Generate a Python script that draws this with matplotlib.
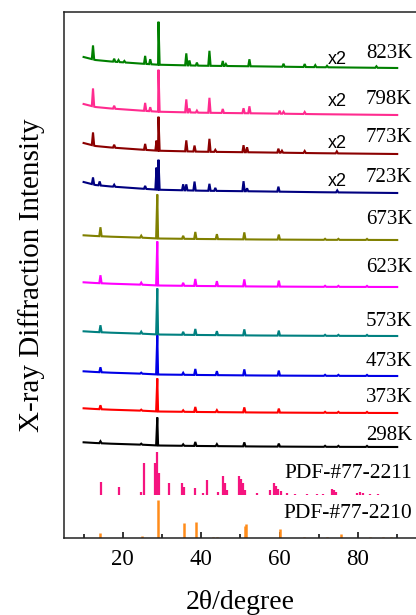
import numpy as np
import matplotlib
matplotlib.use("Agg")
import matplotlib.pyplot as plt

plt.rcParams['font.family'] = ['Liberation Serif', 'DejaVu Serif']

# ---------------- data ----------------
samples = ["823K", "798K", "773K", "723K", "673K", "623K", "573K", "473K", "373K", "298K"]
offsets = [470, 423, 384, 345, 298, 251, 202, 162, 125, 91]
doubled = [True, True, True, True, False, False, False, False, False, False]
colors = ["#008000", "#ff2b8f", "#8b0000", "#000080", "#808000",
          "#ff00ff", "#008080", "#0000e6", "#ff0000", "#000000"]

bg_x = [10, 13, 17, 25, 29, 40, 55, 70, 90]
bg_high = [11, 8, 6.5, 4.3, 3.3, 2.3, 1.6, 0.8, 0]
bg_low = [4.7, 4.0, 3.3, 2.3, 1.5, 1.0, 0.5, 0.2, 0]

pk_823 = [12.4, 17.8, 18.9, 20.4, 25.7, 27.0, 29.1, 36.2, 37.0, 38.9, 42.1, 45.5, 46.3, 52.3, 61.0, 66.4, 69.1, 72.1, 84.7]
ht_823 = [14, 3, 2, 1.5, 8, 5, 43, 12, 5, 3, 15, 5, 2, 7, 3, 3, 2, 1.5, 1.5]
pk_798 = [12.4, 17.8, 25.7, 27.0, 29.1, 36.2, 37.0, 38.9, 42.1, 45.5, 50.8, 52.3, 60.0, 61.0, 66.4]
ht_798 = [18, 3, 8, 4, 42, 13, 4, 2, 15, 4, 5, 7, 3, 2, 2]
pk_773 = [12.4, 17.8, 25.7, 28.6, 29.1, 36.2, 38.3, 42.1, 43.6, 50.8, 51.7, 59.7, 60.6, 66.4, 74.6]
ht_773 = [13, 3, 6, 10, 34, 11, 6, 13, 2, 7, 5, 4, 2, 2, 2]
pk_723 = [12.4, 14.1, 17.8, 25.7, 28.6, 29.1, 35.4, 36.2, 38.3, 42.1, 43.6, 50.8, 51.7, 59.7, 74.7]
ht_723 = [7, 4, 2, 3, 22, 30, 6, 6, 9, 7, 3, 10, 3, 5, 2]
pk_low = [14.3, 24.7, 28.8, 35.4, 38.5, 44.0, 51.0, 59.8, 71.6, 75.0, 82.3]
ht_673 = [9, 2, 44, 3, 7, 5, 7, 5, 1, 1, 1]
ht_623 = [8, 2, 44, 3, 7, 5, 7, 6, 1, 1, 1]
ht_573 = [7, 2, 46, 3, 6, 4, 6, 5, 1, 1, 1]
ht_473 = [5, 1, 39, 2, 6, 4, 6, 5, 1, 1, 1]
ht_373 = [4, 1, 33, 1.5, 5, 2, 5, 4, 1, 1, 1]
ht_298 = [2, 1, 28, 1.5, 4, 2, 4, 3, 1, 1, 1]

peaks = [pk_823, pk_798, pk_773, pk_723, pk_low, pk_low, pk_low, pk_low, pk_low, pk_low]
heights = [ht_823, ht_798, ht_773, ht_723, ht_673, ht_623, ht_573, ht_473, ht_373, ht_298]

# reference patterns (stick lines)
pdf_names = ["PDF-#77-2211", "PDF-#77-2210"]
pdf_offsets = [43, 0]
pdf_colors = ["#f5147f", "#ff8c1a"]
pdf2211_pos = [14.4, 19.0, 24.6, 25.3, 28.2, 28.6, 29.2, 31.8, 35.1, 35.5, 38.5, 40.5, 41.5, 44.4,
               45.6, 46.1, 46.7, 49.7, 50.2, 50.7, 51.3, 54.2, 57.6, 58.5, 59.0, 59.7, 60.4, 61.9,
               64.0, 67.0, 69.5, 71.0, 73.4, 73.8, 74.3, 79.8, 80.6, 81.3, 83.0, 85.0]
pdf2211_h = [13, 8, 3, 32, 32, 43, 22, 12, 12, 8, 7, 2, 15, 3,
             19, 12, 5, 19, 16, 12, 5, 2, 5, 12, 9, 6, 4, 2,
             1.5, 1.5, 1.5, 1.5, 6, 5, 3, 2, 3, 2, 1, 1]
pdf2210_pos = [14.2, 24.9, 28.9, 35.7, 38.7, 42.9, 44.1, 51.1, 51.4, 60.0, 66.3, 72.1, 75.7, 83.1, 86.5, 88.3]
pdf2210_h = [5, 2, 38, 15, 16, 1.5, 1.5, 12, 14, 9, 1.5, 1.5, 4, 1.5, 1.5, 1.5]

# text layout (label heights above each trace's baseline)
label_dy = [15, 15, 17, 15, 20, 19, 14, 14, 15, 12]
x2_dy = [9, 13, 11, 12]
pdf_label_dy = [22, 24]

xticks_major = [20, 40, 60, 80]


def trace(pk, ht, bgy, w=0.3):
    xs = list(bg_x)
    ys = list(bgy)
    for p, h in zip(pk, ht):
        b = np.interp(p, bg_x, bgy)
        xs += [p - w, p, p + w]
        ys += [np.interp(p - w, bg_x, bgy), b + h, np.interp(p + w, bg_x, bgy)]
    order = np.argsort(xs, kind="stable")
    return np.array(xs)[order], np.array(ys)[order]


fig = plt.figure(figsize=(4.16, 6.15), dpi=100)
ax = fig.add_axes([64 / 416, 77 / 615, 352.8 / 416, 526 / 615])

for i, name in enumerate(samples):
    bgy = bg_high if doubled[i] else bg_low
    xs, ys = trace(peaks[i], heights[i], bgy)
    ax.plot(xs, ys + offsets[i], color=colors[i], lw=1.5, solid_joinstyle="miter")
    ax.text(93.9, offsets[i] + label_dy[i], name, ha="right", va="center", fontsize=15)
    if doubled[i]:
        ax.text(74.6, offsets[i] + x2_dy[i], "x2", ha="center", va="center",
                fontsize=13, family=["Liberation Sans", "DejaVu Sans"])

ax.vlines(pdf2211_pos, pdf_offsets[0], np.array(pdf2211_h) + pdf_offsets[0],
          color=pdf_colors[0], lw=1.6)
ax.vlines(pdf2210_pos, pdf_offsets[1], np.array(pdf2210_h) + pdf_offsets[1],
          color=pdf_colors[1], lw=1.8)
for j in range(2):
    ax.text(93.9, pdf_offsets[j] + pdf_label_dy[j], pdf_names[j], ha="right", va="center", fontsize=15.5)

ax.set_xlim(5, 95)
ax.set_ylim(0, 526)
ax.set_xticks(xticks_major)
ax.set_xticks([10, 30, 50, 70, 90], minor=True)
ax.tick_params(axis="x", which="major", direction="in", length=4, width=1.1, labelsize=16.5, pad=8)
ax.tick_params(axis="x", which="minor", direction="in", length=3, width=1.1)
ax.set_yticks([])
for s in ax.spines.values():
    s.set_linewidth(1.1)
    s.set_color("#222222")
ax.set_xlabel("2θ/degree", fontsize=20, labelpad=14)
ax.set_ylabel("X-ray Diffraction Intensity", fontsize=21, labelpad=14)

fig.savefig("out.png", dpi=100)
